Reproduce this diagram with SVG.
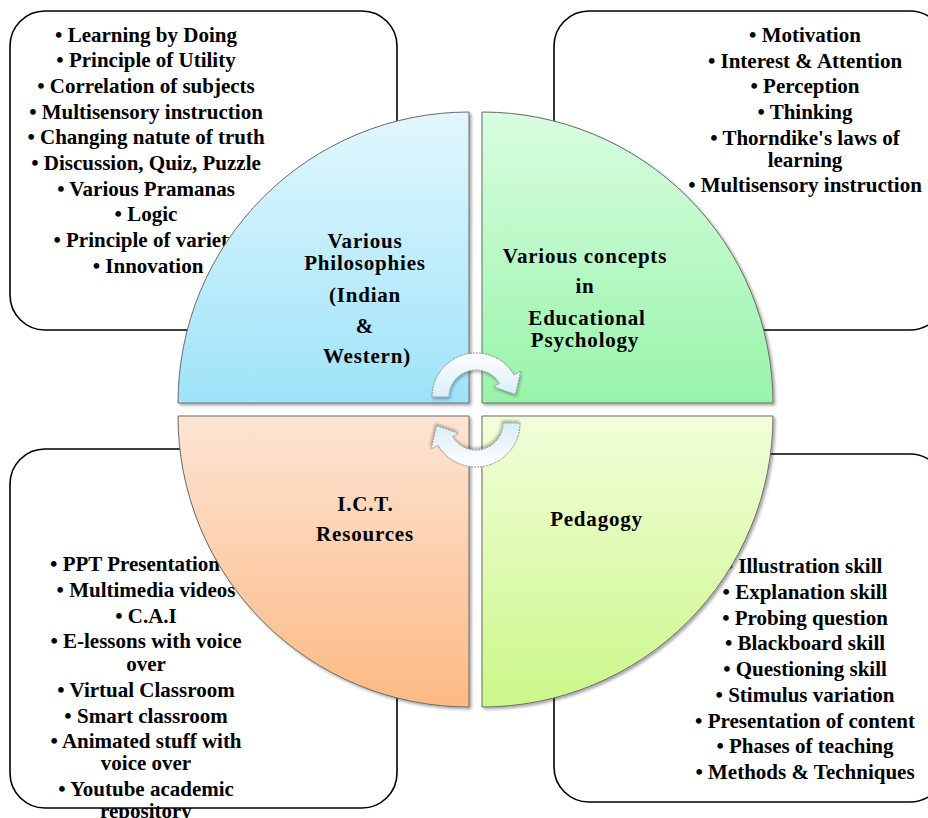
<svg xmlns="http://www.w3.org/2000/svg" width="928" height="818" viewBox="0 0 928 818">
<style>
.box{fill:#fff;stroke:#000;stroke-width:1.6}
.bt{font-family:"Liberation Serif","Times New Roman",serif;font-weight:bold;font-size:21px;fill:#000;text-anchor:middle}
.lab{font-family:"Liberation Serif","Times New Roman",serif;font-weight:bold;font-size:21px;fill:#000;text-anchor:middle;letter-spacing:0.8px}
.q{stroke:#6a6a6a;stroke-width:1;filter:url(#sh)}
.arr{fill:url(#ga);stroke:#8a8a8a;stroke-width:0.9;stroke-dasharray:2 1;filter:url(#sh2)}
</style>
<defs>
<linearGradient id="gb" x1="0" y1="0" x2="0" y2="1"><stop offset="0" stop-color="#e2f7fd"/><stop offset="1" stop-color="#9ee3f9"/></linearGradient>
<linearGradient id="gg" x1="0" y1="0" x2="0" y2="1"><stop offset="0" stop-color="#d9fde0"/><stop offset="1" stop-color="#98f4aa"/></linearGradient>
<linearGradient id="go" x1="0" y1="0" x2="0" y2="1"><stop offset="0" stop-color="#fde4d4"/><stop offset="1" stop-color="#fcba83"/></linearGradient>
<linearGradient id="gy" x1="0" y1="0" x2="0" y2="1"><stop offset="0" stop-color="#f2fed9"/><stop offset="1" stop-color="#cbf789"/></linearGradient>
<linearGradient id="ga" x1="0" y1="0" x2="0" y2="1"><stop offset="0" stop-color="#ffffff"/><stop offset="1" stop-color="#d8edf8"/></linearGradient>
<filter id="sh" x="-5%" y="-5%" width="115%" height="115%"><feDropShadow dx="2" dy="2" stdDeviation="1.6" flood-color="#000" flood-opacity="0.35"/></filter>
<filter id="sh2" x="-20%" y="-20%" width="140%" height="140%"><feDropShadow dx="1" dy="2" stdDeviation="1.5" flood-color="#000" flood-opacity="0.3"/></filter>
</defs>

<g id="box-philosophy">
<rect class="box" x="10" y="11" width="387" height="319" rx="35"/>
<text class="bt" x="146" y="41.5">• Learning by Doing</text>
<text class="bt" x="146" y="67.2">• Principle of Utility</text>
<text class="bt" x="146" y="92.9">• Correlation of subjects</text>
<text class="bt" x="146" y="118.6">• Multisensory instruction</text>
<text class="bt" x="146" y="144.3">• Changing natute of truth</text>
<text class="bt" x="146" y="170">• Discussion, Quiz, Puzzle</text>
<text class="bt" x="146" y="195.7">• Various Pramanas</text>
<text class="bt" x="146" y="221.4">• Logic</text>
<text class="bt" x="146" y="247.1">• Principle of variety</text>
<text class="bt" x="148" y="272.8">• Innovation</text>
</g>

<g id="box-psychology">
<rect class="box" x="554" y="11" width="391" height="319" rx="35"/>
<text class="bt" x="805" y="41.7">• Motivation</text>
<text class="bt" x="805" y="67.5">• Interest &amp; Attention</text>
<text class="bt" x="805" y="93.2">• Perception</text>
<text class="bt" x="805" y="119">• Thinking</text>
<text class="bt" x="805" y="144.7">• Thorndike's laws of</text>
<text class="bt" x="805" y="166.5">learning</text>
<text class="bt" x="805" y="191.7">• Multisensory instruction</text>
</g>

<g id="box-ict">
<rect class="box" x="10" y="449" width="387" height="359" rx="35"/>
<text class="bt" x="135" y="571">• PPT Presentation</text>
<text class="bt" x="146" y="596.7">• Multimedia videos</text>
<text class="bt" x="146" y="622.5">• C.A.I</text>
<text class="bt" x="146" y="648.3">• E-lessons  with voice</text>
<text class="bt" x="146" y="671">over</text>
<text class="bt" x="146" y="696.7">• Virtual Classroom</text>
<text class="bt" x="146" y="722.5">• Smart classroom</text>
<text class="bt" x="146" y="748.3">• Animated stuff with</text>
<text class="bt" x="146" y="770">voice over</text>
<text class="bt" x="146" y="795.8">• Youtube academic</text>
<text class="bt" x="146" y="817.5">repository</text>
</g>

<g id="box-pedagogy">
<rect class="box" x="554" y="454" width="391" height="348" rx="35"/>
<text class="bt" x="804" y="573.3">• Illustration skill</text>
<text class="bt" x="805" y="599">• Explanation skill</text>
<text class="bt" x="805" y="624.6">• Probing question</text>
<text class="bt" x="805" y="650.4">• Blackboard skill</text>
<text class="bt" x="805" y="676.2">• Questioning skill</text>
<text class="bt" x="805" y="701.9">• Stimulus variation</text>
<text class="bt" x="805" y="727.7">• Presentation of content</text>
<text class="bt" x="805" y="753.4">• Phases of teaching</text>
<text class="bt" x="805" y="779.2">• Methods &amp; Techniques</text>
</g>

<g id="q-philosophy">
<path class="q" fill="url(#gb)" d="M469,403 L178,403 A291,291 0 0 1 469,112 Z"/>
<text class="lab" x="365" y="248.3">Various</text>
<text class="lab" x="365" y="270">Philosophies</text>
<text class="lab" x="365" y="301.7">(Indian</text>
<text class="lab" x="365" y="332.7">&amp;</text>
<text class="lab" x="367" y="363.3">Western)</text>
</g>

<g id="q-psychology">
<path class="q" fill="url(#gg)" d="M482,403 L482,112 A291,291 0 0 1 773,403 Z"/>
<text class="lab" x="585" y="262.7">Various concepts</text>
<text class="lab" x="585" y="293.3">in</text>
<text class="lab" x="587" y="325">Educational</text>
<text class="lab" x="585" y="347">Psychology</text>
</g>

<g id="q-ict">
<path class="q" fill="url(#go)" d="M469,416 L469,707 A291,291 0 0 1 178,416 Z"/>
<text class="lab" x="365.5" y="510.7">I.C.T.</text>
<text class="lab" x="365" y="541">Resources</text>
</g>

<g id="q-pedagogy">
<path class="q" fill="url(#gy)" d="M482,416 L773,416 A291,291 0 0 1 482,707 Z"/>
<text class="lab" x="596.5" y="525.7">Pedagogy</text>
</g>

<g id="connectors">
<path class="arr" d="M432,397 A44,44 0 0 1 514.1,375 L520.8,371 L515.5,394.5 L493.4,386.7 L499.4,383.5 A27,27 0 0 0 449,397 Z"/>
<path class="arr" transform="rotate(180 476 410)" d="M432,397 A44,44 0 0 1 514.1,375 L520.8,371 L515.5,394.5 L493.4,386.7 L499.4,383.5 A27,27 0 0 0 449,397 Z"/>
</g>
</svg>
